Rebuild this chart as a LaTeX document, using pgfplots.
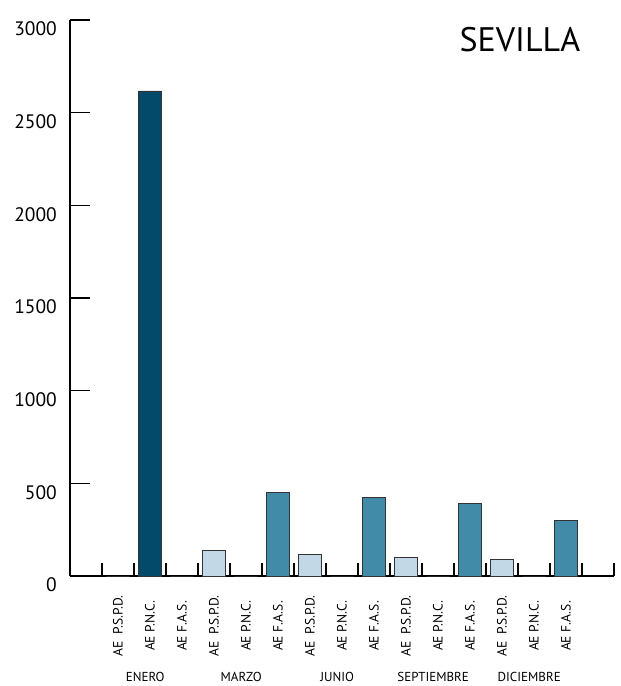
\documentclass[border=0pt]{standalone}
\usepackage{pgfplots}
\pgfplotsset{compat=1.18}
\usepackage{fontspec}
\setmainfont{PT Sans}
\definecolor{navy}{HTML}{03496A}
\definecolor{teal}{HTML}{418BA9}
\definecolor{pale}{HTML}{C3D8E6}

\begin{document}
\begin{tikzpicture}
\begin{axis}[
  name=ax,
  scale only axis, width=544pt, height=556pt,
  xmin=-1.5, xmax=15.5, ymin=0, ymax=3000,
  clip=false,
  axis lines*=left,
  axis line style={line width=1.6pt,-},
  ytick={0,500,...,3000},
  scaled y ticks=false,
  /pgf/number format/1000 sep={},
  /pgf/number format/assume math mode=true,
  xtick={0,...,14},
  xticklabels={AE\ \ P.S.P.D.,AE P.N.C.,AE F.A.S.,
               AE\ \ P.S.P.D.,AE P.N.C.,AE F.A.S.,
               AE\ \ P.S.P.D.,AE P.N.C.,AE F.A.S.,
               AE\ \ P.S.P.D.,AE P.N.C.,AE F.A.S.,
               AE\ \ P.S.P.D.,AE P.N.C.,AE F.A.S.},
  minor xtick={-0.5,0.5,...,15.5},
  tick align=inside,
  major tick length=20pt,
  minor tick length=13pt,
  tick style={line width=1.6pt,black},
  major x tick style={draw=none},
  minor x tick style={line width=1.6pt,black},
  yticklabel style={font=\fontsize{19.5}{22}\selectfont,anchor=east,inner sep=0pt,xshift=-13pt,yshift=-9pt},
  xticklabel style={font=\fontsize{13.5}{15}\selectfont,yshift=-50pt,rotate=90,anchor=center},
]
% AE P.S.P.D.
\addplot[ybar,bar width=23pt,bar shift=0pt,fill=pale,draw=black!80,line width=0.8pt]
  coordinates {(0,0)(3,136)(6,115)(9,101)(12,90)};
% AE P.N.C.
\addplot[ybar,bar width=23pt,bar shift=0pt,fill=navy,draw=black!80,line width=0.8pt]
  coordinates {(1,2617)(4,0)(7,0)(10,0)(13,0)};
% AE F.A.S.
\addplot[ybar,bar width=23pt,bar shift=0pt,fill=teal,draw=black!80,line width=0.8pt]
  coordinates {(2,0)(5,450)(8,423)(11,392)(14,302)};

\node[font=\fontsize{13}{15}\selectfont] at (axis cs:0.85,0) [yshift=-101pt] {ENERO};
\node[font=\fontsize{13}{15}\selectfont] at (axis cs:3.85,0) [yshift=-101pt] {MARZO};
\node[font=\fontsize{13}{15}\selectfont] at (axis cs:6.85,0) [yshift=-101pt] {JUNIO};
\node[font=\fontsize{13}{15}\selectfont] at (axis cs:9.85,0) [yshift=-101pt] {SEPTIEMBRE};
\node[font=\fontsize{13}{15}\selectfont] at (axis cs:12.85,0) [yshift=-101pt] {DICIEMBRE};
\node[font=\fontsize{34}{40}\selectfont] at (rel axis cs:0.827,0.964) {SEVILLA};
\end{axis}
\pgfresetboundingbox
\path[use as bounding box] (ax.south west) ++(-70pt,-110pt) rectangle ++(621pt,686pt);
\end{tikzpicture}
\end{document}
